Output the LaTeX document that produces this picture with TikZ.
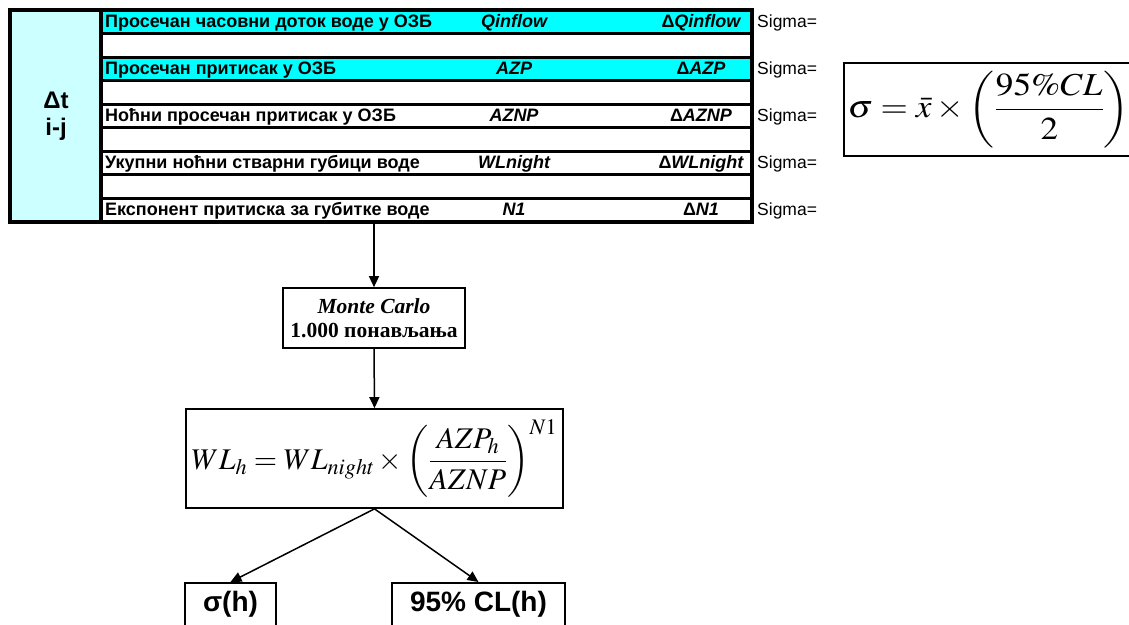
\documentclass[tikz,border=0pt]{standalone}
\usepackage{mathptmx}
\usepackage[no-math]{fontspec}
\setmainfont{Liberation Sans}
\newfontfamily\timesfont{Liberation Serif}
\usetikzlibrary{arrows.meta,positioning}
\definecolor{rowcyan}{HTML}{00FFFF}
\definecolor{cellcyan}{HTML}{CCFFFF}
\tikzset{
  rowtext/.style={font=\fontsize{18}{21}\selectfont\bfseries, anchor=base west, inner sep=0pt},
  symtext/.style={font=\fontsize{18}{21}\selectfont\bfseries\itshape, anchor=base, inner sep=0pt},
  sigmatext/.style={font=\fontsize{17.5}{20}\selectfont, anchor=base west, inner sep=0pt},
  box/.style={draw, line width=1.7pt, fill=white},
  resultbox/.style={box, anchor=north, text height=25pt, text depth=25pt,
                    font=\fontsize{28}{32}\selectfont\bfseries},
  flow/.style={line width=1.5pt, -{Triangle[length=11pt,width=10pt]}},
}

\begin{document}
\begin{tikzpicture}[x=1pt, y=-1pt]
  \useasboundingbox (0,0) rectangle (1129,624);

  % input table
  \fill[cellcyan] (10,10) rectangle (101,221.5);
  \fill[rowcyan] (101,10) rectangle (752,33.5);
  \fill[rowcyan] (101,57) rectangle (752,80.5);
  \foreach \k in {1,...,8}
    \draw[line width=3pt] (101,10+23.5*\k) -- (752,10+23.5*\k);
  \draw[line width=4pt] (10,10) rectangle (752,221.5);
  \draw[line width=4pt] (101,10) -- (101,221.5);

  \node[font=\fontsize{24}{27}\selectfont\bfseries, align=center] (dt) at (56,116) {Δt\\i-j};

  \foreach \k/\txt/\sym in {0/{Просечан часовни доток воде у ОЗБ}/Qinflow,
                            2/{Просечан притисак у ОЗБ}/AZP,
                            4/{Ноћни просечан притисак у ОЗБ}/AZNP,
                            6/{Укупни ноћни стварни губици воде}/WLnight,
                            8/{Експонент притиска за губитке воде}/N1} {
    \pgfmathsetmacro\yb{10+23.5*\k+17.5}
    \node[rowtext] (lbl\k) at (105,\yb) {\txt};
    \node[symtext] (sym\k) at (514,\yb) {\sym};
    \node[symtext] (dsym\k) at (701,\yb) {{\upshape Δ}\sym};
    \node[sigmatext] (sig\k) at (757,\yb) {Sigma=};
  }

  % sigma formula
  \node[box, anchor=west, minimum height=93pt, text width=290pt, inner xsep=4pt, align=left] (sf) at (843,109.5)
    {\fontsize{32}{38}\selectfont\scalebox{1.1}[1]{$\displaystyle \sigma = \bar{x}\times\left(\frac{95\%CL}{2}\right)$}};

  % simulation
  \coordinate (tablebot) at (374,221.5);
  \node[box, minimum width=182pt, minimum height=60pt, align=center,
        font=\timesfont\fontsize{21.5}{24}\selectfont\bfseries] (mc) at (374,318)
    {\textit{Monte Carlo}\\1.000 понављања};
  \node[box, inner xsep=6pt, minimum height=99pt] (wl) at (374.5,458.5)
    {\fontsize{30}{36}\selectfont $\displaystyle WL_h = WL_{night}\times\left(\frac{AZP_h}{AZNP}\right)^{N1}$};

  \node[resultbox, minimum width=91pt] (sg) at (230.5,582) {σ(h)};
  \node[resultbox, minimum width=173pt] (cl) at (478.5,582) {95\% CL(h)};

  \draw[flow] (tablebot) -- (mc.north);
  \draw[flow] (mc.south) -- (wl.north);
  \draw[flow] (wl.south) -- (sg.north);
  \draw[flow] (wl.south) -- (cl.north);
\end{tikzpicture}
\end{document}
